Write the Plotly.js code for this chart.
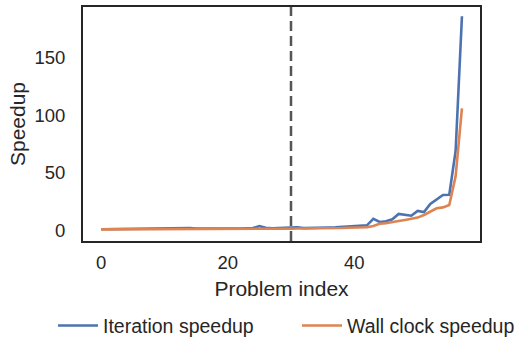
<!DOCTYPE html>
<html>
<head>
<meta charset="utf-8">
<script src="https://cdn.plot.ly/plotly-3.0.1.min.js"></script>
<style>html,body{margin:0;padding:0;background:#fff;}#chart{width:517px;height:337px;}</style>
</head>
<body>
<div id="chart"></div>
<script>
const problemIndex = Array.from({length: 58}, (_, i) => i);
const iterationSpeedup = [
  1.0, 1.1, 1.2, 1.2, 1.3, 1.3, 1.4, 1.6, 1.8, 1.5,
  1.4, 1.5, 1.6, 2.0, 2.0, 1.6, 1.5, 1.7, 1.9, 1.8,
  1.7, 1.6, 1.7, 1.8, 2.0, 3.8, 2.2, 1.9, 2.2, 2.0,
  2.4, 2.8, 2.0, 2.0, 2.1, 2.3, 2.5, 2.7, 3.0, 3.3,
  3.6, 4.0, 4.4, 10.0, 7.3, 8.0, 9.7, 14.3, 13.4, 12.8,
  16.9, 16.0, 23.0, 27.0, 30.8, 31.0, 69.0, 186.0
];
const wallClockSpeedup = [
  0.9, 0.9, 0.9, 1.0, 1.0, 1.0, 1.0, 1.0, 1.1, 1.1,
  1.1, 1.1, 1.1, 1.2, 1.2, 1.2, 1.2, 1.2, 1.3, 1.3,
  1.3, 1.3, 1.3, 1.4, 1.4, 1.4, 1.4, 1.5, 1.5, 1.5,
  1.5, 1.6, 1.6, 1.7, 1.7, 1.8, 1.9, 2.0, 2.1, 2.3,
  2.4, 2.6, 2.8, 3.9, 5.8, 6.2, 7.4, 8.2, 9.1, 10.0,
  11.1, 13.4, 16.3, 19.2, 20.0, 22.0, 47.0, 106.0
];
const splitIndex = 30;
const xTicks = [0, 20, 40];
const yTicks = [0, 50, 100, 150];

const font = 'Liberation Sans, Arial, sans-serif';
const dark = '#262626';

const traces = [
  {x: problemIndex, y: iterationSpeedup, type: 'scatter', mode: 'lines',
   name: 'Iteration speedup', legend: 'legend', line: {color: '#4C72B0', width: 2.6}},
  {x: problemIndex, y: wallClockSpeedup, type: 'scatter', mode: 'lines',
   name: 'Wall clock speedup', legend: 'legend2', line: {color: '#DD8452', width: 2.6}}
];

const legendBase = {orientation: 'h', xref: 'container', yref: 'container',
  xanchor: 'left', y: 0.033, yanchor: 'middle',
  font: {size: 19.5, color: dark}, itemwidth: 40, bgcolor: 'rgba(0,0,0,0)'};

const layout = {
  width: 517, height: 337,
  margin: {l: 83, r: 37, t: 7, b: 96},
  paper_bgcolor: '#fff', plot_bgcolor: '#fff',
  font: {family: font, color: dark, size: 18.5},
  showlegend: true,
  legend: Object.assign({}, legendBase, {x: 53 / 517}),
  legend2: Object.assign({}, legendBase, {x: 297 / 517}),
  xaxis: {
    range: [-2.85, 59.85], tickvals: xTicks, ticktext: xTicks.map(String),
    showgrid: false, zeroline: false, ticks: '', ticklabelstandoff: 4,
    showline: true, mirror: true, linecolor: dark, linewidth: 2,
    tickfont: {size: 18.5, color: dark},
    title: {text: 'Problem index', font: {size: 21, color: dark}, standoff: 9}
  },
  yaxis: {
    range: [-9.2, 194], tickvals: yTicks, ticktext: yTicks.map(String),
    showgrid: false, zeroline: false, ticks: '', ticklabelstandoff: 12,
    showline: true, mirror: true, linecolor: dark, linewidth: 2,
    tickfont: {size: 18.5, color: dark},
    title: {text: 'Speedup', font: {size: 21, color: dark}, standoff: 3}
  },
  shapes: [{type: 'line', xref: 'x', yref: 'paper', x0: splitIndex, x1: splitIndex, y0: 0, y1: 1,
            line: {color: '#555555', width: 2.5, dash: '10px,5px'}}]
};

Plotly.newPlot('chart', traces, layout, {displayModeBar: false, staticPlot: true});
</script>
</body>
</html>
